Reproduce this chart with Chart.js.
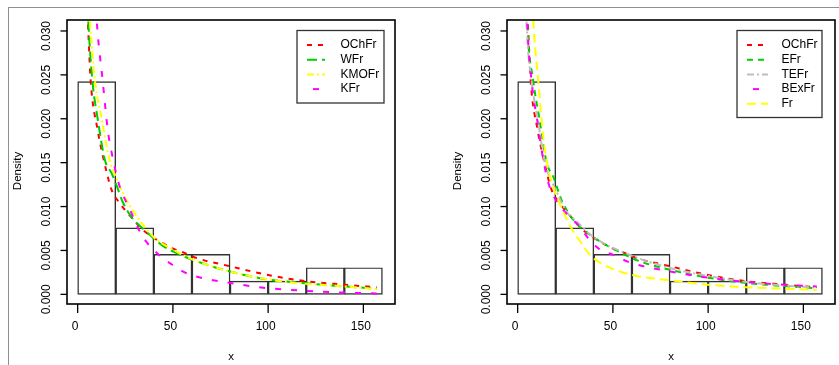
<!DOCTYPE html>
<html>
<head>
<meta charset="utf-8">
<script src="https://cdn.jsdelivr.net/npm/chart.js@4.4.1/dist/chart.umd.min.js"></script>
<style>
  html, body { margin: 0; padding: 0; background: #fff; }
  #wrap { position: relative; width: 839px; height: 365px; overflow: hidden; }
  #frame { position: absolute; left: 8px; top: 7px; width: 900px; height: 400px;
           border-top: 1px solid #8f8f8f; border-left: 1px solid #8f8f8f; }
  canvas { position: absolute; top: 0; }
  #left { left: 0; }
  #right { left: 420px; }
</style>
</head>
<body>
<div id="wrap">
  <div id="frame"></div>
  <canvas id="left" width="420" height="365"></canvas>
  <canvas id="right" width="419" height="365"></canvas>
</div>
<script>
// Histogram of the data (density scale), bins of width 20
const binEdges = [0, 20, 40, 60, 80, 100, 120, 140, 160];
const binDensity = [0.02424, 0.00758, 0.00455, 0.00455, 0.00152, 0.00152, 0.00303, 0.00303];

// Axis ticks
const xTicks = [0, 50, 100, 150];
const yTicks = [0.000, 0.005, 0.010, 0.015, 0.020, 0.025, 0.030];

// Fitted densities, [x, density]
const ochfrCurve = [[4.6,0.0345],[5.6,0.0298],[6.8,0.0244],[10.5,0.0187],[13.1,0.0159],[17.8,0.0119],[21.3,0.0106],[25.7,0.0094],[30.1,0.0083],[34.4,0.0073],[43.2,0.0060],[50.2,0.0052],[56.3,0.0047],[61.5,0.0042],[80,0.0032],[100,0.0022],[120,0.0015],[140,0.0011],[157,0.0008]];
const wfrCurve = [[4.9,0.0345],[5.6,0.0310],[7.7,0.0244],[10.5,0.0200],[14.3,0.0153],[17.8,0.0138],[20.4,0.0124],[23.9,0.0104],[28.3,0.0088],[33.6,0.0076],[38.8,0.0066],[44.9,0.0055],[51.9,0.0047],[60.7,0.0039],[80,0.0026],[100,0.0017],[120,0.00125],[140,0.0009],[157,0.00065]];
const kmofrCurve = [[5.6,0.0345],[6.5,0.0310],[9.1,0.0243],[12.6,0.0200],[16.5,0.0155],[20,0.0134],[25,0.0110],[30,0.0092],[40,0.0065],[50,0.0051],[60,0.0040],[80,0.0026],[100,0.0017],[120,0.0012],[140,0.0009],[157,0.0006]];
const kfrCurve = [[9.2,0.0345],[10,0.0312],[13.1,0.0244],[16,0.0184],[17.8,0.0162],[21.6,0.0126],[28,0.0094],[31.8,0.0075],[36,0.0060],[43.2,0.0044],[50.2,0.0033],[57.2,0.0024],[80,0.0013],[100,0.0007],[120,0.0004],[140,0.0002],[157,0.0001]];
const efrCurve = [[4.6,0.0345],[5.0,0.0312],[8.2,0.0243],[11.4,0.0200],[15.2,0.0150],[18.7,0.0134],[23.1,0.0107],[29.2,0.0085],[37.9,0.0068],[44.9,0.0058],[51.9,0.0050],[62.4,0.0039],[80,0.0028],[100,0.0019],[120,0.0013],[140,0.00095],[157,0.0007]];
const tefrCurve = [[4.2,0.0345],[4.6,0.0312],[7.3,0.0243],[10.5,0.0200],[14.3,0.0150],[20,0.0119],[25.7,0.0094],[30,0.0085],[40,0.0065],[60,0.0044],[80,0.0030],[100,0.0021],[120,0.0014],[140,0.0010],[157,0.00075]];
const bexfrCurve = [[4.6,0.0345],[5.0,0.0312],[7.3,0.0243],[10.5,0.0195],[12.6,0.0164],[16.1,0.0127],[20.4,0.0106],[26.5,0.0090],[32.7,0.0077],[37,0.0064],[43.2,0.0051],[50.2,0.0045],[58.1,0.0037],[80,0.0026],[100,0.0019],[120,0.0014],[140,0.0011],[157,0.0009]];
const frCurve = [[7.6,0.0345],[8.2,0.0312],[10.8,0.0243],[13.4,0.0180],[16.1,0.0142],[19.6,0.0117],[23.1,0.0098],[28.3,0.0075],[33.6,0.0058],[37.9,0.0045],[44.9,0.0034],[53.7,0.0026],[62.4,0.0021],[80,0.0016],[100,0.0011],[120,0.0008],[140,0.00065],[157,0.0005]];

const FONT = '"Liberation Sans", Arial, Helvetica, sans-serif';

function toXY(pairs) { return pairs.map(p => ({ x: p[0], y: p[1] })); }

function histDataset() {
  return {
    type: 'bar',
    label: 'hist',
    data: binDensity.map((d, i) => ({ x: (binEdges[i] + binEdges[i + 1]) / 2, y: d })),
    backgroundColor: 'rgba(0,0,0,0)',
    borderColor: '#333333',
    borderWidth: 0.8,
    borderSkipped: false,
    barPercentage: 1,
    categoryPercentage: 1,
    grouped: false,
    order: 100
  };
}

function curve(label, pairs, color, dash, order, legendDash) {
  return {
    type: 'line',
    label: label,
    data: toXY(pairs),
    borderColor: color,
    borderWidth: 2,
    borderDash: dash,
    legendDash: legendDash || { dash: dash, offset: 0 },
    cubicInterpolationMode: 'monotone',
    pointRadius: 0,
    fill: false,
    order: order
  };
}

// Axes, box and legend drawn in base-graphics style
const baseAxes = {
  id: 'baseAxes',
  afterDatasetsDraw(chart, args, opts) {
    const { ctx, chartArea: a, scales } = chart;
    const xs = scales.x, ys = scales.y;
    ctx.save();
    ctx.fillStyle = '#000';
    ctx.strokeStyle = '#000';
    ctx.setLineDash([]);

    // plot box
    ctx.lineWidth = 1.6;
    ctx.strokeRect(a.left, a.top, a.right - a.left, a.bottom - a.top);

    // x axis
    ctx.lineWidth = 1.3;
    ctx.font = '12px ' + FONT;
    ctx.textAlign = 'center';
    ctx.textBaseline = 'middle';
    xTicks.forEach(v => {
      const px = xs.getPixelForValue(v);
      ctx.beginPath(); ctx.moveTo(px, a.bottom); ctx.lineTo(px, a.bottom + 9); ctx.stroke();
      ctx.fillText(String(v), px - 2.5, a.bottom + 23);
    });

    // y axis with rotated labels
    yTicks.forEach(v => {
      const py = ys.getPixelForValue(v);
      ctx.beginPath(); ctx.moveTo(a.left - 6.5, py); ctx.lineTo(a.left, py); ctx.stroke();
      ctx.save();
      ctx.translate(a.left - 20.5, py + 5);
      ctx.rotate(-Math.PI / 2);
      ctx.fillText(v.toFixed(3), 0, 0);
      ctx.restore();
    });

    // axis titles
    ctx.font = '11.5px ' + FONT;
    ctx.fillText('x', (a.left + a.right) / 2, a.bottom + 53);
    ctx.save();
    ctx.translate(a.left - 49.5, (a.top + a.bottom) / 2 + 9);
    ctx.rotate(-Math.PI / 2);
    ctx.fillText('Density', 0, 0);
    ctx.restore();

    // legend
    const L = opts.box;
    const items = chart.data.datasets.filter(d => d.type === 'line');
    ctx.fillStyle = '#fff';
    ctx.fillRect(L.x, L.y, L.w, L.h);
    ctx.strokeStyle = '#333';
    ctx.lineWidth = 1.3;
    ctx.strokeRect(L.x, L.y, L.w, L.h);
    ctx.font = '12px ' + FONT;
    ctx.textAlign = 'left';
    items.forEach((d, i) => {
      const yy = L.y + L.first + i * L.step;
      ctx.strokeStyle = d.borderColor;
      ctx.lineWidth = 2;
      ctx.setLineDash(d.legendDash.dash);
      ctx.lineDashOffset = d.legendDash.offset;
      ctx.beginPath(); ctx.moveTo(L.x + L.s0, yy); ctx.lineTo(L.x + L.s1, yy); ctx.stroke();
      ctx.setLineDash([]);
      ctx.lineDashOffset = 0;
      ctx.fillStyle = '#000';
      ctx.fillText(d.label, L.x + L.tx, yy);
    });
    ctx.restore();
  }
};

function makeChart(id, datasets, padding, legendBox) {
  return new Chart(document.getElementById(id), {
    type: 'line',
    data: { datasets: datasets },
    options: {
      responsive: false,
      animation: false,
      devicePixelRatio: 1,
      layout: { padding: padding },
      scales: {
        x: {
          type: 'linear', display: false, offset: false, min: -5.6, max: 166.6,
          afterBuildTicks: s => { s.ticks = xTicks.map(v => ({ value: v })); }
        },
        y: {
          type: 'linear', display: false, min: -0.0011, max: 0.03125,
          afterBuildTicks: s => { s.ticks = yTicks.map(v => ({ value: v })); }
        }
      },
      plugins: {
        legend: { display: false },
        tooltip: { enabled: false },
        baseAxes: { box: legendBox }
      }
    },
    plugins: [baseAxes]
  });
}

makeChart('left', [
  curve('OChFr', ochfrCurve, '#ff0000', [5, 6], 4),
  curve('WFr', wfrCurve, '#00cd00', [10, 5], 3),
  curve('KMOFr', kmofrCurve, '#ffff00', [7, 3, 2, 3], 2),
  curve('KFr', kfrCurve, '#ff00ff', [6, 10], 1, { dash: [6, 10], offset: 10 }),
  histDataset()
], { left: 67, right: 25, top: 20, bottom: 61 },
   { x: 297, y: 30.5, w: 87, h: 72.5, first: 14.5, step: 14.7, s0: 10, s1: 28, tx: 43.5 });

makeChart('right', [
  curve('OChFr', ochfrCurve, '#ff0000', [5, 6], 5),
  curve('EFr', efrCurve, '#00cd00', [6, 5], 4),
  curve('TEFr', tefrCurve, '#bebebe', [7, 3, 2, 3], 3),
  curve('BExFr', bexfrCurve, '#ff00ff', [6, 10], 2, { dash: [6, 10], offset: 10 }),
  curve('Fr', frCurve, '#ffff00', [9, 5], 1),
  histDataset()
], { left: 87, right: 4, top: 20, bottom: 61 },
   { x: 317, y: 30.5, w: 85, h: 87, first: 14.5, step: 14.7, s0: 10, s1: 31, tx: 44.5 });
</script>
</body>
</html>
